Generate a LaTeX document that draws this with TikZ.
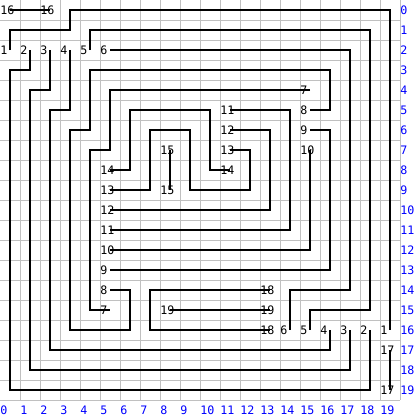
\documentclass[tikz,border=0pt]{standalone}
\usepackage{fontspec}
\setmonofont{DejaVu Sans Mono}
\usepackage{tikz}
\usetikzlibrary{positioning}
\usepackage{xcolor}
\definecolor{gridgray}{RGB}{192,192,192}
\definecolor{axisblue}{RGB}{0,0,255}
\tikzstyle{gridline} = [draw=gridgray, line width=0.7pt]
\tikzstyle{wire}     = [draw=black, line width=0.75pt]
\tikzstyle{num}      = [text width=13.6pt, align=left, inner xsep=0.3pt, inner ysep=0pt, text height=6pt, text depth=0pt, font=\fontsize{8.3}{10}\selectfont\ttfamily]
\tikzstyle{axisnum}  = [num, text=axisblue]

\begin{document}
\begin{tikzpicture}[x=0.5cm, y=0.5cm]
        \useasboundingbox (-0.5,0.5) rectangle (20.5,-20.5);

        % grid
        \foreach \k in {0,...,19} {
            \draw [gridline] (\k+0.5,0.5) -- (\k+0.5,-19.5);
            \draw [gridline] (-0.5,-\k-0.5) -- (19.5,-\k-0.5);
        }

        % axis numbers
        \foreach \k in {0,...,19} {
            \node (row\k) [axisnum] at (20,-\k) {\k};
            \node (col\k) [axisnum] at (\k,-20) {\k};
        }

        % wire ends
        \node (a1)  [num] at (0,-2)   {1};
        \node (b1)  [num] at (19,-16) {1};
        \node (a2)  [num] at (1,-2)   {2};
        \node (b2)  [num] at (18,-16) {2};
        \node (a3)  [num] at (2,-2)   {3};
        \node (b3)  [num] at (17,-16) {3};
        \node (a4)  [num] at (3,-2)   {4};
        \node (b4)  [num] at (16,-16) {4};
        \node (a5)  [num] at (4,-2)   {5};
        \node (b5)  [num] at (15,-16) {5};
        \node (a6)  [num] at (5,-2)   {6};
        \node (b6)  [num] at (14,-16) {6};
        \node (a7)  [num] at (15,-4)  {7};
        \node (b7)  [num] at (5,-15)  {7};
        \node (a8)  [num] at (15,-5)  {8};
        \node (b8)  [num] at (5,-14)  {8};
        \node (a9)  [num] at (15,-6)  {9};
        \node (b9)  [num] at (5,-13)  {9};
        \node (a10) [num] at (15,-7)  {10};
        \node (b10) [num] at (5,-12)  {10};
        \node (a11) [num] at (11,-5)  {11};
        \node (b11) [num] at (5,-11)  {11};
        \node (a12) [num] at (11,-6)  {12};
        \node (b12) [num] at (5,-10)  {12};
        \node (a13) [num] at (11,-7)  {13};
        \node (b13) [num] at (5,-9)   {13};
        \node (a14) [num] at (11,-8)  {14};
        \node (b14) [num] at (5,-8)   {14};
        \node (a15) [num] at (8,-7)   {15};
        \node (b15) [num] at (8,-9)   {15};
        \node (a16) [num] at (0,0)    {16};
        \node (b16) [num] at (2,0)    {16};
        \node (a17) [num] at (19,-17) {17};
        \node (b17) [num] at (19,-19) {17};
        \node (a18) [num] at (13,-14) {18};
        \node (b18) [num] at (13,-16) {18};
        \node (a19) [num] at (8,-15)  {19};
        \node (b19) [num] at (13,-15) {19};

        % wires
        \draw [wire] (a1.center)  |- (3,-1) |- (19,0) -- (b1.center);
        \draw [wire] (a2.center)  |- (0,-3) |- (18,-19) -- (b2.center);
        \draw [wire] (a3.center)  |- (1,-4) |- (17,-18) -- (b3.center);
        \draw [wire] (a4.center)  |- (2,-5) |- (16,-17) -- (b4.center);
        \draw [wire] (a5.center)  |- (18,-1) -- (18,-15) -| (b5.center);
        \draw [wire] (a6.center)  -- (17,-2) -- (17,-14) -| (b6.center);
        \draw [wire] (a7.center)  -| (5,-7) -| (4,-15) -- (b7.center);
        \draw [wire] (a8.center)  -| (16,-3) -| (4,-6) -| (3,-16) -| (6,-14) -- (b8.center);
        \draw [wire] (a9.center)  -| (16,-13) -- (b9.center);
        \draw [wire] (a10.center) |- (b10.center);
        \draw [wire] (a11.center) -| (14,-11) -- (b11.center);
        \draw [wire] (a12.center) -| (13,-10) -- (b12.center);
        \draw [wire] (b13.center) -| (7,-6) -| (9,-9) -| (12,-7) -- (a13.center);
        \draw [wire] (b14.center) -| (6,-5) -| (10,-8) -- (a14.center);
        \draw [wire] (a15.center) -- (b15.center);
        \draw [wire] (a16.center) -- (b16.center);
        \draw [wire] (a17.center) -- (b17.center);
        \draw [wire] (a18.center) -| (7,-16) -- (b18.center);
        \draw [wire] (a19.center) -- (b19.center);
    \end{tikzpicture}
\end{document}
